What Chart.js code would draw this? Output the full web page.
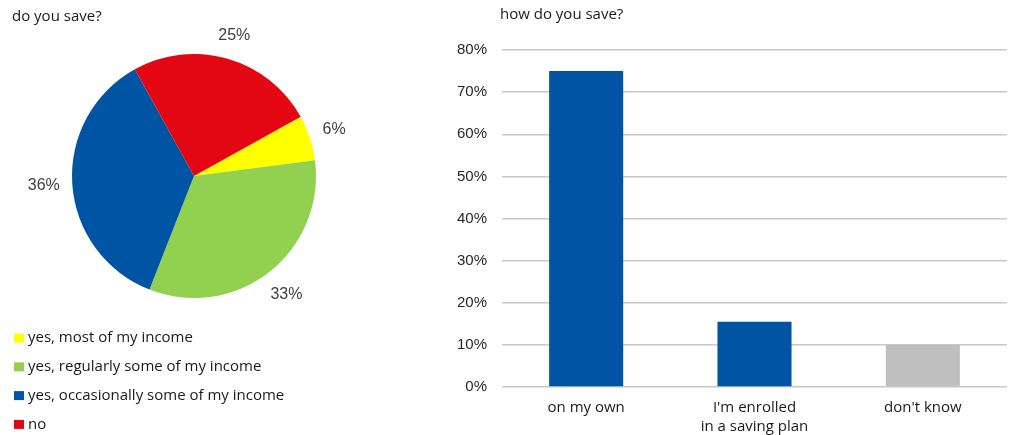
<!DOCTYPE html>
<html>
<head>
<meta charset="utf-8">
<script src="https://cdn.jsdelivr.net/npm/chart.js@4/dist/chart.umd.min.js"></script>
<style>
  html, body { margin: 0; padding: 0; background: #fff; }
  #wrap { position: relative; width: 1013px; height: 435px; overflow: hidden; }
  #pieBox { position: absolute; left: 0; top: 0; width: 430px; height: 435px; }
  #barBox { position: absolute; left: 430px; top: 0; width: 583px; height: 435px; }
</style>
</head>
<body>
<div id="wrap">
  <div id="pieBox"><canvas id="pie"></canvas></div>
  <div id="barBox"><canvas id="bar"></canvas></div>
</div>
<script>
// Survey answers: do you save?
const pieTitle = 'do you save?';
const pieLabels = ['yes, most of my income', 'yes, regularly some of my income', 'yes, occasionally some of my income', 'no'];
const pieValues = [6, 33, 36, 25];
const pieColors = ['#ffff00', '#92d050', '#0054a4', '#e30613'];

// Survey answers: how do you save?
const barTitle = 'how do you save?';
const barCategories = [['on my own'], ["I'm enrolled", 'in a saving plan'], ["don't know"]];
const barValues = [75, 15.5, 10];
const barColors = ['#0054a4', '#0054a4', '#bfbfbf'];
const yTicks = [0, 10, 20, 30, 40, 50, 60, 70, 80];

const FONT = '"Open Sans", "Noto Sans", sans-serif';
const NUM_FONT = '"Liberation Sans", Arial, sans-serif';
const TEXT = '#1a1a1a';

// Draws a chart heading at a fixed spot in the top-left corner
const headingPlugin = {
  id: 'heading',
  afterDraw(chart, args, opts) {
    const ctx = chart.ctx;
    ctx.save();
    ctx.font = '15px ' + FONT;
    ctx.fillStyle = TEXT;
    ctx.textAlign = 'left';
    ctx.textBaseline = 'middle';
    ctx.fillText(opts.text, opts.x, opts.y);
    ctx.restore();
  }
};

// Percentage labels just outside each slice
const sliceLabelPlugin = {
  id: 'sliceLabels',
  afterDatasetsDraw(chart) {
    const ctx = chart.ctx;
    const meta = chart.getDatasetMeta(0);
    const data = chart.data.datasets[0].data;
    const total = data.reduce((a, b) => a + b, 0);
    ctx.save();
    ctx.font = '16px ' + NUM_FONT;
    ctx.fillStyle = '#404040';
    ctx.textAlign = 'center';
    ctx.textBaseline = 'middle';
    meta.data.forEach((arc, i) => {
      const p = arc.getProps(['x', 'y', 'startAngle', 'endAngle', 'outerRadius'], true);
      const mid = (p.startAngle + p.endAngle) / 2;
      const txt = Math.round(data[i] / total * 100) + '%';
      const w = ctx.measureText(txt).width;
      const h = 16;
      const c = Math.cos(mid), s = Math.sin(mid);
      const d = p.outerRadius + 12 + Math.abs(c) * w / 2 + Math.abs(s) * h / 2;
      ctx.fillText(txt, p.x + c * d, p.y + s * d);
    });
    ctx.restore();
  }
};

// Vertical legend list under the pie
const listLegendPlugin = {
  id: 'listLegend',
  afterDraw(chart, args, opts) {
    const ctx = chart.ctx;
    const ds = chart.data.datasets[0];
    ctx.save();
    ctx.font = '15px ' + FONT;
    ctx.textAlign = 'left';
    ctx.textBaseline = 'middle';
    chart.data.labels.forEach((lab, i) => {
      const y = opts.y + i * opts.step;
      ctx.fillStyle = ds.backgroundColor[i];
      ctx.fillRect(opts.x, y - 4.5, 10, 9);
      ctx.fillStyle = TEXT;
      ctx.fillText(lab, opts.x + 14, y);
    });
    ctx.restore();
  }
};

new Chart(document.getElementById('pie'), {
  type: 'pie',
  data: {
    labels: pieLabels,
    datasets: [{ data: pieValues, backgroundColor: pieColors, borderWidth: 0 }]
  },
  options: {
    responsive: true,
    maintainAspectRatio: false,
    animation: false,
    rotation: 61,
    layout: { padding: { left: 72, right: 114, top: 54, bottom: 137 } },
    plugins: {
      legend: { display: false },
      tooltip: { enabled: false },
      heading: { text: pieTitle, x: 12, y: 17 },
      listLegend: { x: 14, y: 338, step: 28.8 }
    }
  },
  plugins: [headingPlugin, sliceLabelPlugin, listLegendPlugin]
});

new Chart(document.getElementById('bar'), {
  type: 'bar',
  data: {
    labels: barCategories,
    datasets: [{ data: barValues, backgroundColor: barColors, borderWidth: 0,
                 categoryPercentage: 1, barPercentage: 0.44 }]
  },
  options: {
    responsive: true,
    maintainAspectRatio: false,
    animation: false,
    layout: { padding: { left: 0, right: 6, top: 50, bottom: 0 } },
    scales: {
      x: {
        grid: { display: false },
        border: { display: false },
        ticks: { color: TEXT, font: { family: FONT, size: 15, lineHeight: 1.27 }, padding: 3,
                 maxRotation: 0, autoSkip: false },
        afterFit(scale) { scale.height = 48; }
      },
      y: {
        min: 0, max: 80,
        afterBuildTicks(scale) { scale.ticks = yTicks.map(v => ({ value: v })); },
        grid: { color: '#c8c8c8', lineWidth: 1.5, drawTicks: false },
        border: { display: false },
        ticks: { color: '#262626', font: { family: NUM_FONT, size: 15 }, padding: 15,
                 callback: v => v + '%' },
        afterFit(scale) { scale.width = 72; }
      }
    },
    plugins: {
      legend: { display: false },
      tooltip: { enabled: false },
      heading: { text: barTitle, x: 70, y: 15 }
    }
  },
  plugins: [headingPlugin]
});
</script>
</body>
</html>
